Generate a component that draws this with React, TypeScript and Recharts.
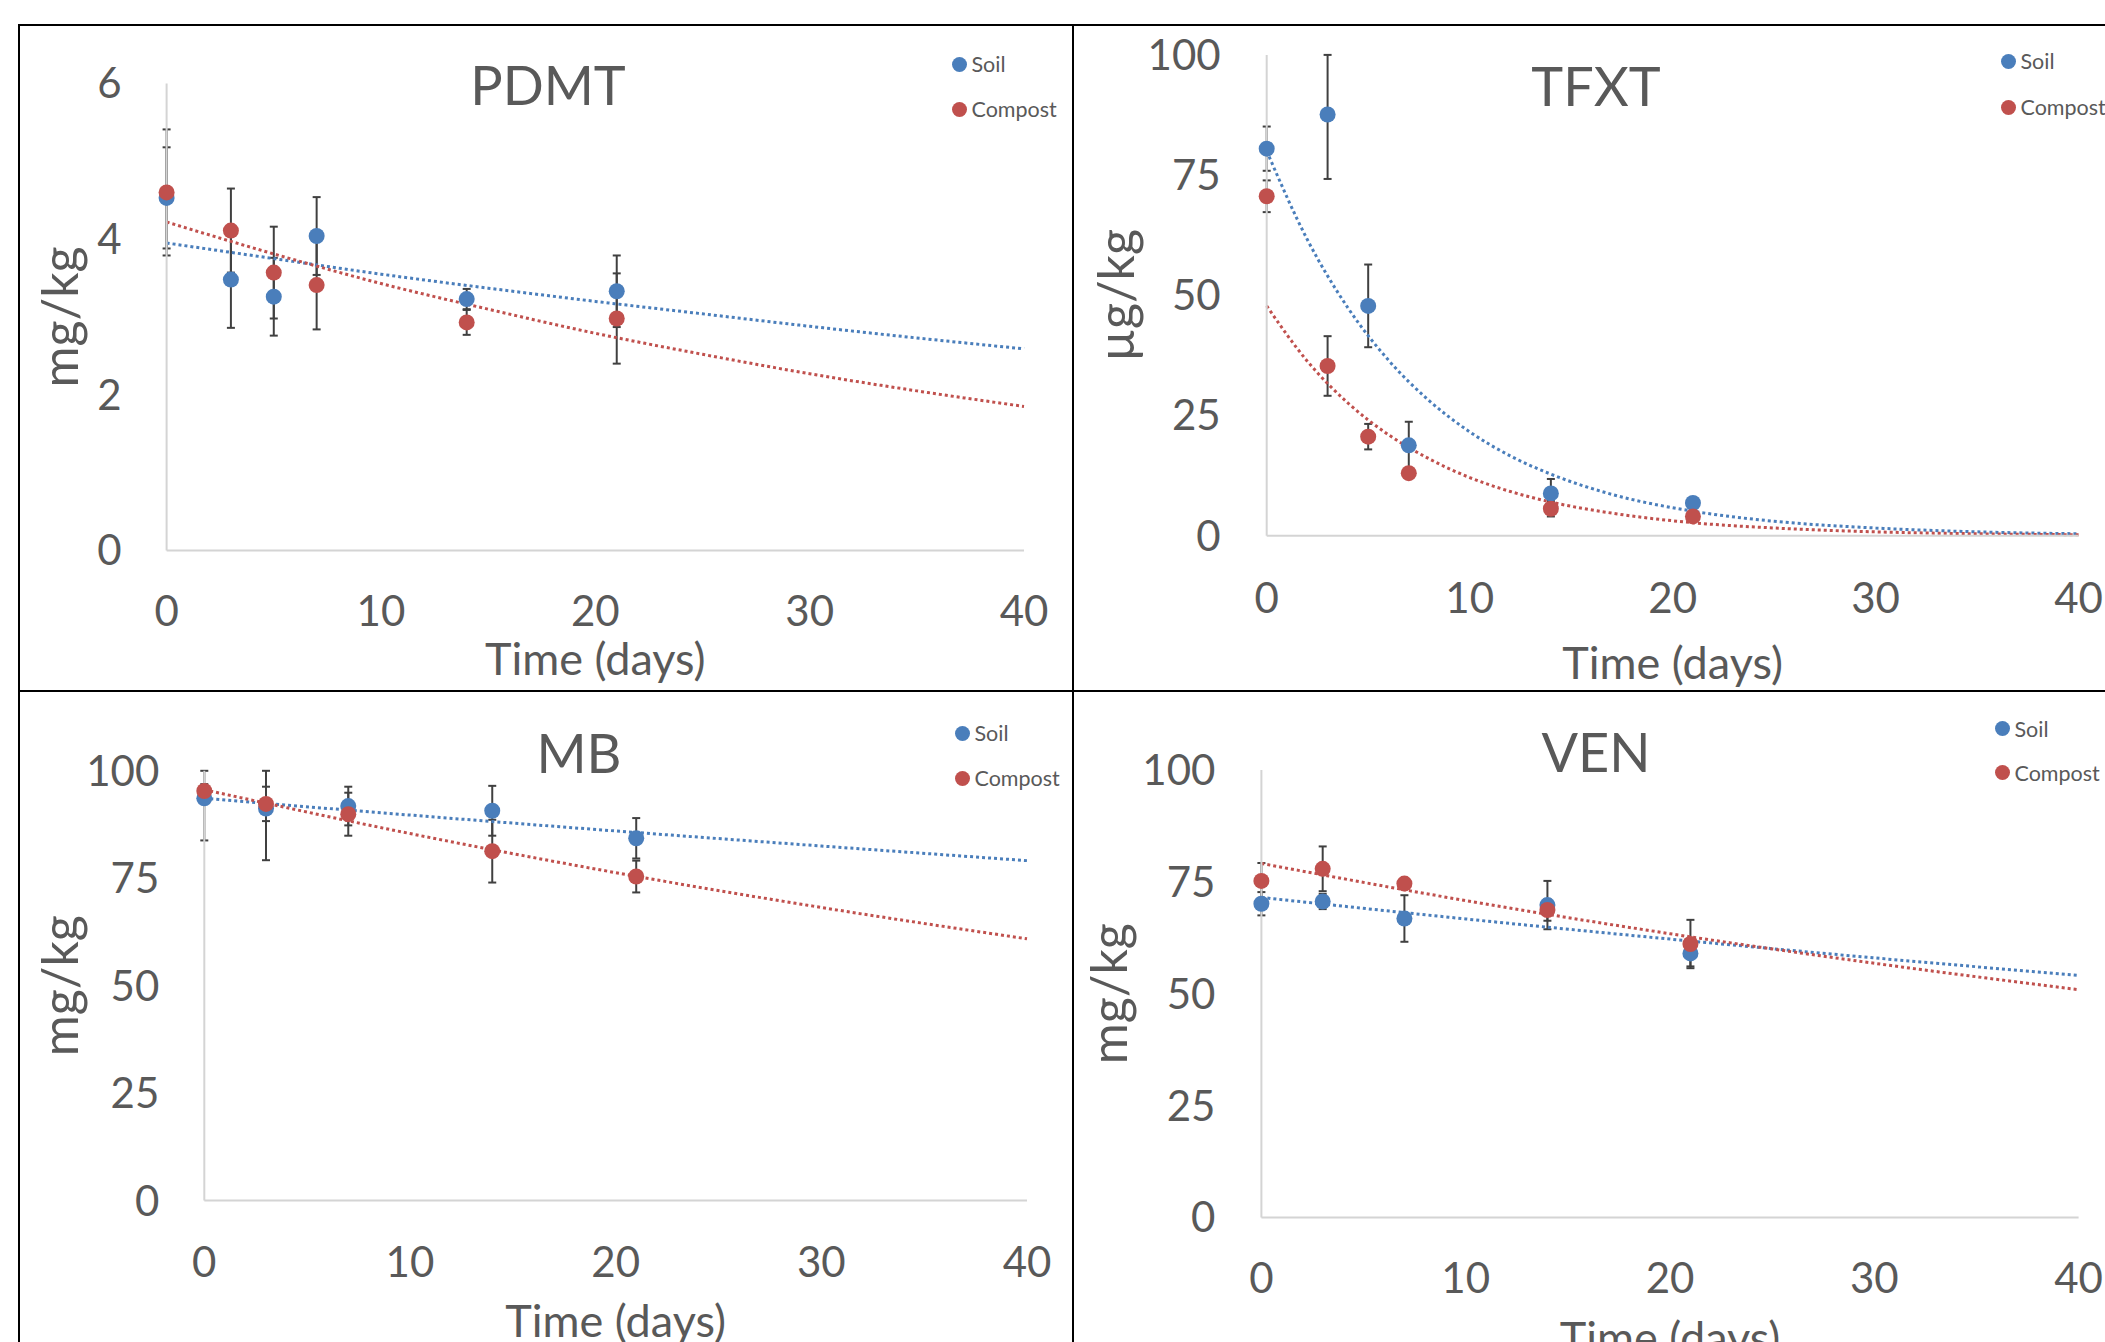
import React from 'react';
import { ComposedChart, Scatter, Line, XAxis, YAxis, ErrorBar, Legend } from 'recharts';

const BLUE = '#4a7ebb';
const RED = '#c0504d';
const TEXT = '#595959';
const AXIS = '#d4d4d4';
const FONT = 'Lato, "Open Sans", sans-serif';

// sampling days
const days = [0, 3, 5, 7, 14, 21];
const laterDays = [0, 3, 7, 14, 21];
const xTicks = [0, 10, 20, 30, 40];

// PDMT (mg/kg)
const pdmtSoil = [4.53, 3.48, 3.26, 4.04, 3.23, 3.33];
const pdmtSoilErr = [0.65, 0.62, 0.5, 0.5, 0.13, 0.46];
const pdmtCompost = [4.6, 4.11, 3.57, 3.41, 2.93, 2.98];
const pdmtCompostErr = [0.81, 0.54, 0.59, 0.57, 0.16, 0.58];
const pdmtTrendDays = [0, 5, 10, 15, 20, 25, 30, 35, 40];
const pdmtSoilTrend = [3.95, 3.75, 3.55, 3.37, 3.2, 3.04, 2.88, 2.73, 2.59];
const pdmtCompostTrend = [4.22, 3.81, 3.43, 3.1, 2.79, 2.52, 2.27, 2.05, 1.85];

// TFXT (µg/kg)
const tfxtSoil = [80.5, 87.6, 47.8, 18.8, 8.8, 6.8];
const tfxtSoilErr = [4.6, 13.4, 8.6, 4.9, 3, 0.8];
const tfxtCompost = [70.6, 35.3, 20.6, 13.0, 5.6, 4.0];
const tfxtCompostErr = [3.3, 6.2, 2.65, 1, 1.6, 0.8];
const tfxtTrendDays = [0, 2, 4, 6, 8, 10, 12, 14, 17, 21, 25, 30, 35, 40];
const tfxtSoilTrend = [80, 61.6, 47.4, 36.5, 28.1, 21.6, 16.6, 12.8, 8.6, 5.1, 3.0, 1.6, 0.8, 0.4];
const tfxtCompostTrend = [47.8, 36.3, 27.6, 21.0, 16.0, 12.1, 9.2, 7.0, 4.7, 2.7, 1.6, 0.8, 0.4, 0.2];

// MB (mg/kg)
const mbSoil = [93.6, 91.2, 91.8, 90.7, 84.3];
const mbSoilErr = [9.8, 12, 4.5, 5.8, 4.7];
const mbCompost = [95.3, 92.3, 89.9, 81.3, 75.4];
const mbCompostErr = [1.6, 4, 5, 7.3, 3.7];
const linTrendDays = [0, 10, 20, 30, 40];
const mbSoilTrend = [93.6, 89.7, 86.0, 82.5, 79.1];
const mbCompostTrend = [95.6, 85.4, 76.3, 68.2, 60.9];

// VEN (mg/kg)
const venSoil = [70.1, 70.6, 66.8, 69.8, 59.0];
const venSoilErr = [2.6, 1.7, 5.2, 5.4, 2.9];
const venCompost = [75.2, 77.9, 74.6, 68.7, 61.1];
const venCompostErr = [4, 5, 1, 2.4, 5.4];
const venSoilTrend = [71.5, 66.7, 62.2, 58.0, 54.1];
const venCompostTrend = [79.1, 70.8, 63.4, 56.8, 50.9];

// error bars are cut at the top of the axis, like the original
const toPoints = (xs: number[], ys: number[], errs: number[], top: number) =>
  xs.map((x, i) => ({ x, y: ys[i], err: [errs[i], Math.min(errs[i], top - ys[i])] }));
const toLine = (xs: number[], ys: number[]) => xs.map((x, i) => ({ x, y: ys[i] }));

function LegendBox({ gap }: { gap: number }) {
  const items = [
    { name: 'Soil', color: BLUE },
    { name: 'Compost', color: RED },
  ];
  return (
    <div>
      {items.map((it) => (
        <div
          key={it.name}
          style={{ display: 'flex', alignItems: 'center', height: gap, fontSize: 21.5, color: TEXT, fontFamily: FONT, whiteSpace: 'nowrap' }}
        >
          <span style={{ width: 15, height: 15, borderRadius: '50%', background: it.color, marginRight: 5, flex: 'none' }} />
          {it.name}
        </div>
      ))}
    </div>
  );
}

const dotShape = (color: string) => (props: any) =>
  <circle cx={props.cx} cy={props.cy} r={8} fill={color} />;

interface PanelProps {
  left: number;
  top: number;
  width: number;
  height: number;
  margin: { top: number; right: number; bottom: number; left: number };
  yAxisWidth: number;
  yMax: number;
  yTicks: number[];
  yLabel: string;
  yLabelOffset: number;
  yTickMargin: number;
  xTickMargin: number;
  xLabelOffset: number;
  title: string;
  titleX: number;
  titleY: number;
  legendLeft: number;
  legendTop: number;
  legendGap: number;
  soil: { x: number; y: number; err: number[] }[];
  compost: { x: number; y: number; err: number[] }[];
  soilTrend: { x: number; y: number }[];
  compostTrend: { x: number; y: number }[];
}

function Panel(p: PanelProps) {
  return (
    <>
      <div
        style={{
          position: 'absolute',
          left: p.titleX - 200,
          top: p.titleY - 36.5,
          width: 400,
          textAlign: 'center',
          fontSize: 54,
          lineHeight: '70px',
          color: TEXT,
          fontFamily: FONT,
        }}
      >
        {p.title}
      </div>
      <div style={{ position: 'absolute', left: p.left, top: p.top }}>
        <ComposedChart width={p.width} height={p.height} margin={p.margin}>
          <XAxis
            dataKey="x"
            type="number"
            domain={[0, 40]}
            ticks={xTicks}
            interval={0}
            height={100}
            axisLine={{ stroke: AXIS, strokeWidth: 2 }}
            tickLine={false}
            tickSize={0}
            tickMargin={p.xTickMargin}
            tick={{ fontSize: 42, fill: TEXT, fontFamily: FONT }}
            label={{ value: 'Time (days)', position: 'bottom', offset: p.xLabelOffset, style: { fontSize: 45, fill: TEXT, fontFamily: FONT } }}
          />
          <YAxis
            type="number"
            domain={[0, p.yMax]}
            ticks={p.yTicks}
            interval={0}
            width={p.yAxisWidth}
            axisLine={{ stroke: AXIS, strokeWidth: 2 }}
            tickLine={false}
            tickSize={0}
            tickMargin={p.yTickMargin}
            tick={{ fontSize: 42, fill: TEXT, fontFamily: FONT }}
            label={{
              value: p.yLabel,
              angle: -90,
              position: 'insideLeft',
              offset: p.yLabelOffset,
              style: { fontSize: 50, fill: TEXT, fontFamily: FONT, textAnchor: 'middle' },
            }}
          />
          <Legend
            layout="vertical"
            align="center"
            verticalAlign="middle"
            wrapperStyle={{ left: p.legendLeft, top: p.legendTop, width: 'auto' }}
            content={() => <LegendBox gap={p.legendGap} />}
          />
          <Scatter name="Soil" data={p.soil} dataKey="y" shape={dotShape(BLUE)} isAnimationActive={false}>
            <ErrorBar dataKey="err" direction="y" width={4} stroke="#404040" strokeWidth={2} isAnimationActive={false} />
          </Scatter>
          <Scatter name="Compost" data={p.compost} dataKey="y" shape={dotShape(RED)} isAnimationActive={false}>
            <ErrorBar dataKey="err" direction="y" width={4} stroke="#404040" strokeWidth={2} isAnimationActive={false} />
          </Scatter>
          <Line
            data={p.soilTrend}
            dataKey="y"
            type="monotone"
            stroke={BLUE}
            strokeWidth={3}
            strokeDasharray="3 3"
            dot={false}
            activeDot={false}
            legendType="none"
            isAnimationActive={false}
          />
          <Line
            data={p.compostTrend}
            dataKey="y"
            type="monotone"
            stroke={RED}
            strokeWidth={3}
            strokeDasharray="3 3"
            dot={false}
            activeDot={false}
            legendType="none"
            isAnimationActive={false}
          />
        </ComposedChart>
      </div>
    </>
  );
}

const line = (style: React.CSSProperties) => <div style={{ position: 'absolute', background: '#000', ...style }} />;

export default function App() {
  return (
    <div style={{ position: 'absolute', left: 0, top: 0, width: 2105, height: 1342, overflow: 'hidden', background: '#fff', fontFamily: FONT }}>
      <Panel
        left={20}
        top={26}
        width={1052}
        height={664}
        margin={{ top: 57.5, right: 48, bottom: 39.6, left: 0 }}
        yAxisWidth={146.6}
        yMax={6}
        yTicks={[0, 2, 4, 6]}
        yLabel="mg/kg"
        yLabelOffset={40}
        yTickMargin={45}
        xTickMargin={46}
        xLabelOffset={-7.4}
        title="PDMT"
        titleX={548}
        titleY={86}
        legendLeft={931.5}
        legendTop={15.5}
        legendGap={45}
        soil={toPoints(days, pdmtSoil, pdmtSoilErr, 6)}
        compost={toPoints(days, pdmtCompost, pdmtCompostErr, 6)}
        soilTrend={toLine(pdmtTrendDays, pdmtSoilTrend)}
        compostTrend={toLine(pdmtTrendDays, pdmtCompostTrend)}
      />
      <Panel
        left={1075}
        top={26}
        width={1100}
        height={664}
        margin={{ top: 28.9, right: 96.4, bottom: 54.3, left: 0 }}
        yAxisWidth={191.7}
        yMax={100}
        yTicks={[0, 25, 50, 75, 100]}
        yLabel="µg/kg"
        yLabelOffset={41}
        yTickMargin={46}
        xTickMargin={47}
        xLabelOffset={11.3}
        title="TFXT"
        titleX={1596}
        titleY={87}
        legendLeft={925.5}
        legendTop={12}
        legendGap={46}
        soil={toPoints(days, tfxtSoil, tfxtSoilErr, 100)}
        compost={toPoints(days, tfxtCompost, tfxtCompostErr, 100)}
        soilTrend={toLine(tfxtTrendDays, tfxtSoilTrend)}
        compostTrend={toLine(tfxtTrendDays, tfxtCompostTrend)}
      />
      <Panel
        left={20}
        top={693}
        width={1052}
        height={700}
        margin={{ top: 77.8, right: 45, bottom: 92.4, left: 0 }}
        yAxisWidth={184.3}
        yMax={100}
        yTicks={[0, 25, 50, 75, 100]}
        yLabel="mg/kg"
        yLabelOffset={40}
        yTickMargin={45}
        xTickMargin={46.5}
        xLabelOffset={4.2}
        title="MB"
        titleX={579}
        titleY={754}
        legendLeft={934.5}
        legendTop={17.5}
        legendGap={45}
        soil={toPoints(laterDays, mbSoil, mbSoilErr, 100)}
        compost={toPoints(laterDays, mbCompost, mbCompostErr, 100)}
        soilTrend={toLine(linTrendDays, mbSoilTrend)}
        compostTrend={toLine(linTrendDays, mbCompostTrend)}
      />
      <Panel
        left={1075}
        top={693}
        width={1100}
        height={700}
        margin={{ top: 76.9, right: 96.4, bottom: 75.5, left: 0 }}
        yAxisWidth={186.4}
        yMax={100}
        yTicks={[0, 25, 50, 75, 100]}
        yLabel="mg/kg"
        yLabelOffset={34}
        yTickMargin={46}
        xTickMargin={46}
        xLabelOffset={4.2}
        title="VEN"
        titleX={1596}
        titleY={753}
        legendLeft={919.5}
        legendTop={13.6}
        legendGap={44}
        soil={toPoints(laterDays, venSoil, venSoilErr, 100)}
        compost={toPoints(laterDays, venCompost, venCompostErr, 100)}
        soilTrend={toLine(linTrendDays, venSoilTrend)}
        compostTrend={toLine(linTrendDays, venCompostTrend)}
      />
      {line({ left: 18, top: 24, width: 2087, height: 2 })}
      {line({ left: 18, top: 24, width: 2, height: 1318 })}
      {line({ left: 1072, top: 24, width: 2, height: 1318 })}
      {line({ left: 18, top: 690, width: 2087, height: 2 })}
    </div>
  );
}
